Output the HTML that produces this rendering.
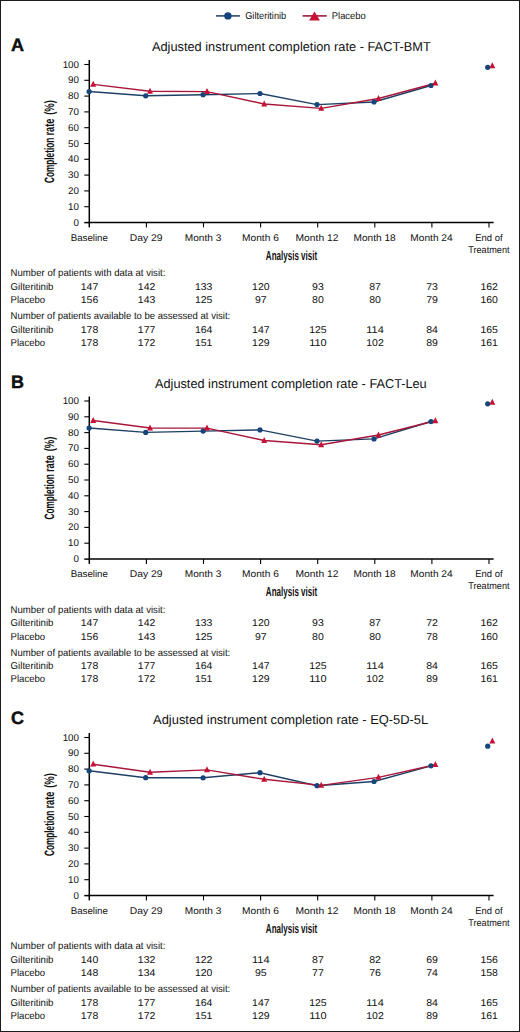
<!DOCTYPE html>
<html><head><meta charset="utf-8"><title>Completion rate</title>
<style>
html,body{margin:0;padding:0;background:#fff;}
body{width:520px;height:1032px;overflow:hidden;}
.frame{position:absolute;left:0;top:0;width:518px;height:1030px;border:1px solid #1c1c1c;background:#fff;}
svg{position:absolute;left:0;top:0;}
text{font-family:"Liberation Sans", sans-serif;fill:#111111;text-rendering:geometricPrecision;}
</style></head><body>
<div class="frame"></div>
<svg width="520" height="1032" viewBox="0 0 520 1032">
<line x1="216.0" y1="15.9" x2="239.9" y2="15.9" stroke="#2a4a70" stroke-width="1.6"/>
<circle cx="227.9" cy="15.9" r="3.7" fill="#16457c"/>
<text x="245.20" y="18.70" font-size="9.9" text-anchor="start" font-weight="normal" textLength="41.0" lengthAdjust="spacingAndGlyphs">Gilteritinib</text>
<line x1="302.6" y1="15.9" x2="326.7" y2="15.9" stroke="#a01838" stroke-width="1.6"/>
<path d="M314.5,11.4L319.9,20.4L309.1,20.4Z" fill="#c61034"/>
<text x="331.80" y="18.70" font-size="9.9" text-anchor="start" font-weight="normal" textLength="33.9" lengthAdjust="spacingAndGlyphs">Placebo</text>
<g><text x="11.00" y="51.30" font-size="18.0" text-anchor="start" font-weight="bold" style="stroke:#000;stroke-width:0.4px">A</text><text x="151.90" y="51.30" font-size="12.9" text-anchor="start" font-weight="normal" textLength="278.9" lengthAdjust="spacingAndGlyphs">Adjusted instrument completion rate - FACT-BMT</text><text transform="translate(54.4,183.00) rotate(-90)" font-size="13.6" font-weight="bold" textLength="45.3" lengthAdjust="spacingAndGlyphs" style="stroke:#111111;stroke-width:0px">Completion</text><text transform="translate(54.4,135.50) rotate(-90)" font-size="13.6" font-weight="bold" textLength="16.9" lengthAdjust="spacingAndGlyphs" style="stroke:#111111;stroke-width:0px">rate</text><text transform="translate(54.4,114.80) rotate(-90)" font-size="13.6" font-weight="bold" textLength="14.8" lengthAdjust="spacingAndGlyphs" style="stroke:#111111;stroke-width:0px">(%)</text><line x1="89.3" y1="60.00" x2="89.3" y2="227.40" stroke="#000" stroke-width="1.5"/><line x1="88.6" y1="222.60" x2="493.6" y2="222.60" stroke="#000" stroke-width="1.5"/><line x1="84.3" y1="206.70" x2="89.3" y2="206.70" stroke="#000" stroke-width="1.1"/><line x1="84.3" y1="190.90" x2="89.3" y2="190.90" stroke="#000" stroke-width="1.1"/><line x1="84.3" y1="175.10" x2="89.3" y2="175.10" stroke="#000" stroke-width="1.1"/><line x1="84.3" y1="159.30" x2="89.3" y2="159.30" stroke="#000" stroke-width="1.1"/><line x1="84.3" y1="143.50" x2="89.3" y2="143.50" stroke="#000" stroke-width="1.1"/><line x1="84.3" y1="127.70" x2="89.3" y2="127.70" stroke="#000" stroke-width="1.1"/><line x1="84.3" y1="111.90" x2="89.3" y2="111.90" stroke="#000" stroke-width="1.1"/><line x1="84.3" y1="96.10" x2="89.3" y2="96.10" stroke="#000" stroke-width="1.1"/><line x1="84.3" y1="80.30" x2="89.3" y2="80.30" stroke="#000" stroke-width="1.1"/><line x1="84.3" y1="64.50" x2="89.3" y2="64.50" stroke="#000" stroke-width="1.1"/><text x="79.00" y="225.50" font-size="9.8" text-anchor="end" font-weight="normal">0</text><text x="79.00" y="209.70" font-size="9.8" text-anchor="end" font-weight="normal">10</text><text x="79.00" y="193.90" font-size="9.8" text-anchor="end" font-weight="normal">20</text><text x="79.00" y="178.10" font-size="9.8" text-anchor="end" font-weight="normal">30</text><text x="79.00" y="162.30" font-size="9.8" text-anchor="end" font-weight="normal">40</text><text x="79.00" y="146.50" font-size="9.8" text-anchor="end" font-weight="normal">50</text><text x="79.00" y="130.70" font-size="9.8" text-anchor="end" font-weight="normal">60</text><text x="79.00" y="114.90" font-size="9.8" text-anchor="end" font-weight="normal">70</text><text x="79.00" y="99.10" font-size="9.8" text-anchor="end" font-weight="normal">80</text><text x="79.00" y="83.30" font-size="9.8" text-anchor="end" font-weight="normal">90</text><text x="79.00" y="67.50" font-size="9.8" text-anchor="end" font-weight="normal">100</text><line x1="84.3" y1="222.60" x2="89.3" y2="222.60" stroke="#000" stroke-width="1.5"/><line x1="146.40" y1="222.50" x2="146.40" y2="227.40" stroke="#000" stroke-width="1.1"/><line x1="203.50" y1="222.50" x2="203.50" y2="227.40" stroke="#000" stroke-width="1.1"/><line x1="260.60" y1="222.50" x2="260.60" y2="227.40" stroke="#000" stroke-width="1.1"/><line x1="317.70" y1="222.50" x2="317.70" y2="227.40" stroke="#000" stroke-width="1.1"/><line x1="374.80" y1="222.50" x2="374.80" y2="227.40" stroke="#000" stroke-width="1.1"/><line x1="431.90" y1="222.50" x2="431.90" y2="227.40" stroke="#000" stroke-width="1.1"/><line x1="489.00" y1="222.50" x2="489.00" y2="227.40" stroke="#000" stroke-width="1.1"/><text x="89.30" y="240.50" font-size="9.7" text-anchor="middle" font-weight="normal" textLength="37.2" lengthAdjust="spacingAndGlyphs">Baseline</text><text x="146.20" y="240.50" font-size="9.7" text-anchor="middle" font-weight="normal" textLength="32.7" lengthAdjust="spacingAndGlyphs">Day 29</text><text x="203.10" y="240.50" font-size="9.7" text-anchor="middle" font-weight="normal" textLength="36.5" lengthAdjust="spacingAndGlyphs">Month 3</text><text x="260.40" y="240.50" font-size="9.7" text-anchor="middle" font-weight="normal" textLength="36.8" lengthAdjust="spacingAndGlyphs">Month 6</text><text x="317.00" y="240.50" font-size="9.7" text-anchor="middle" font-weight="normal" textLength="42.9" lengthAdjust="spacingAndGlyphs">Month 12</text><text x="374.60" y="240.50" font-size="9.7" text-anchor="middle" font-weight="normal" textLength="42.1" lengthAdjust="spacingAndGlyphs">Month 18</text><text x="431.50" y="240.50" font-size="9.7" text-anchor="middle" font-weight="normal" textLength="42.3" lengthAdjust="spacingAndGlyphs">Month 24</text><text x="488.90" y="240.70" font-size="9.7" text-anchor="middle" font-weight="normal" textLength="27.3" lengthAdjust="spacingAndGlyphs">End of</text><text x="488.90" y="252.60" font-size="9.7" text-anchor="middle" font-weight="normal" textLength="41.3" lengthAdjust="spacingAndGlyphs">Treatment</text><text x="291.50" y="259.80" font-size="13.2" text-anchor="middle" font-weight="bold" textLength="51.3" lengthAdjust="spacingAndGlyphs">Analysis visit</text><polyline points="89.10,91.50 145.70,95.80 203.10,94.70 260.00,93.50 317.00,104.60 374.00,102.00 431.00,85.50" fill="none" stroke="#1d4064" stroke-width="1.4"/><polyline points="93.20,84.40 150.00,91.30 207.00,91.60 264.20,104.00 321.20,108.40 378.50,98.50 435.40,83.20" fill="none" stroke="#a8163a" stroke-width="1.4"/><circle cx="89.10" cy="91.50" r="2.6" fill="#16457c"/><circle cx="145.70" cy="95.80" r="2.6" fill="#16457c"/><circle cx="203.10" cy="94.70" r="2.6" fill="#16457c"/><circle cx="260.00" cy="93.50" r="2.6" fill="#16457c"/><circle cx="317.00" cy="104.60" r="2.6" fill="#16457c"/><circle cx="374.00" cy="102.00" r="2.6" fill="#16457c"/><circle cx="431.00" cy="85.50" r="2.6" fill="#16457c"/><circle cx="487.70" cy="67.30" r="2.6" fill="#16457c"/><path d="M93.20,80.80L96.20,86.80L90.20,86.80Z" fill="#c61034"/><path d="M150.00,87.70L153.00,93.70L147.00,93.70Z" fill="#c61034"/><path d="M207.00,88.00L210.00,94.00L204.00,94.00Z" fill="#c61034"/><path d="M264.20,100.40L267.20,106.40L261.20,106.40Z" fill="#c61034"/><path d="M321.20,104.80L324.20,110.80L318.20,110.80Z" fill="#c61034"/><path d="M378.50,94.90L381.50,100.90L375.50,100.90Z" fill="#c61034"/><path d="M435.40,79.60L438.40,85.60L432.40,85.60Z" fill="#c61034"/><path d="M492.30,62.20L495.30,68.20L489.30,68.20Z" fill="#c61034"/><text x="10.60" y="276.40" font-size="10.0" text-anchor="start" font-weight="normal" textLength="154.8" lengthAdjust="spacingAndGlyphs">Number of patients with data at visit:</text><text x="10.60" y="289.90" font-size="10.0" text-anchor="start" font-weight="normal" textLength="42.9" lengthAdjust="spacingAndGlyphs">Gilteritinib</text><text x="10.60" y="303.20" font-size="10.0" text-anchor="start" font-weight="normal" textLength="34.5" lengthAdjust="spacingAndGlyphs">Placebo</text><text x="10.60" y="319.10" font-size="10.0" text-anchor="start" font-weight="normal" textLength="219.6" lengthAdjust="spacingAndGlyphs">Number of patients available to be assessed at visit:</text><text x="10.60" y="332.50" font-size="10.0" text-anchor="start" font-weight="normal" textLength="42.9" lengthAdjust="spacingAndGlyphs">Gilteritinib</text><text x="10.60" y="345.90" font-size="10.0" text-anchor="start" font-weight="normal" textLength="34.5" lengthAdjust="spacingAndGlyphs">Placebo</text><text x="89.50" y="289.90" font-size="9.9" text-anchor="middle" font-weight="normal" textLength="17.5" lengthAdjust="spacingAndGlyphs">147</text><text x="89.50" y="303.20" font-size="9.9" text-anchor="middle" font-weight="normal" textLength="17.5" lengthAdjust="spacingAndGlyphs">156</text><text x="89.50" y="332.50" font-size="9.9" text-anchor="middle" font-weight="normal" textLength="17.5" lengthAdjust="spacingAndGlyphs">178</text><text x="89.50" y="345.90" font-size="9.9" text-anchor="middle" font-weight="normal" textLength="17.5" lengthAdjust="spacingAndGlyphs">178</text><text x="146.60" y="289.90" font-size="9.9" text-anchor="middle" font-weight="normal" textLength="17.5" lengthAdjust="spacingAndGlyphs">142</text><text x="146.60" y="303.20" font-size="9.9" text-anchor="middle" font-weight="normal" textLength="17.5" lengthAdjust="spacingAndGlyphs">143</text><text x="146.60" y="332.50" font-size="9.9" text-anchor="middle" font-weight="normal" textLength="17.5" lengthAdjust="spacingAndGlyphs">177</text><text x="146.60" y="345.90" font-size="9.9" text-anchor="middle" font-weight="normal" textLength="17.5" lengthAdjust="spacingAndGlyphs">172</text><text x="203.70" y="289.90" font-size="9.9" text-anchor="middle" font-weight="normal" textLength="17.5" lengthAdjust="spacingAndGlyphs">133</text><text x="203.70" y="303.20" font-size="9.9" text-anchor="middle" font-weight="normal" textLength="17.5" lengthAdjust="spacingAndGlyphs">125</text><text x="203.70" y="332.50" font-size="9.9" text-anchor="middle" font-weight="normal" textLength="17.5" lengthAdjust="spacingAndGlyphs">164</text><text x="203.70" y="345.90" font-size="9.9" text-anchor="middle" font-weight="normal" textLength="17.5" lengthAdjust="spacingAndGlyphs">151</text><text x="260.80" y="289.90" font-size="9.9" text-anchor="middle" font-weight="normal" textLength="17.5" lengthAdjust="spacingAndGlyphs">120</text><text x="260.80" y="303.20" font-size="9.9" text-anchor="middle" font-weight="normal" textLength="11.7" lengthAdjust="spacingAndGlyphs">97</text><text x="260.80" y="332.50" font-size="9.9" text-anchor="middle" font-weight="normal" textLength="17.5" lengthAdjust="spacingAndGlyphs">147</text><text x="260.80" y="345.90" font-size="9.9" text-anchor="middle" font-weight="normal" textLength="17.5" lengthAdjust="spacingAndGlyphs">129</text><text x="317.90" y="289.90" font-size="9.9" text-anchor="middle" font-weight="normal" textLength="11.7" lengthAdjust="spacingAndGlyphs">93</text><text x="317.90" y="303.20" font-size="9.9" text-anchor="middle" font-weight="normal" textLength="11.7" lengthAdjust="spacingAndGlyphs">80</text><text x="317.90" y="332.50" font-size="9.9" text-anchor="middle" font-weight="normal" textLength="17.5" lengthAdjust="spacingAndGlyphs">125</text><text x="317.90" y="345.90" font-size="9.9" text-anchor="middle" font-weight="normal" textLength="17.5" lengthAdjust="spacingAndGlyphs">110</text><text x="375.00" y="289.90" font-size="9.9" text-anchor="middle" font-weight="normal" textLength="11.7" lengthAdjust="spacingAndGlyphs">87</text><text x="375.00" y="303.20" font-size="9.9" text-anchor="middle" font-weight="normal" textLength="11.7" lengthAdjust="spacingAndGlyphs">80</text><text x="375.00" y="332.50" font-size="9.9" text-anchor="middle" font-weight="normal" textLength="17.5" lengthAdjust="spacingAndGlyphs">114</text><text x="375.00" y="345.90" font-size="9.9" text-anchor="middle" font-weight="normal" textLength="17.5" lengthAdjust="spacingAndGlyphs">102</text><text x="432.10" y="289.90" font-size="9.9" text-anchor="middle" font-weight="normal" textLength="11.7" lengthAdjust="spacingAndGlyphs">73</text><text x="432.10" y="303.20" font-size="9.9" text-anchor="middle" font-weight="normal" textLength="11.7" lengthAdjust="spacingAndGlyphs">79</text><text x="432.10" y="332.50" font-size="9.9" text-anchor="middle" font-weight="normal" textLength="11.7" lengthAdjust="spacingAndGlyphs">84</text><text x="432.10" y="345.90" font-size="9.9" text-anchor="middle" font-weight="normal" textLength="11.7" lengthAdjust="spacingAndGlyphs">89</text><text x="489.20" y="289.90" font-size="9.9" text-anchor="middle" font-weight="normal" textLength="17.5" lengthAdjust="spacingAndGlyphs">162</text><text x="489.20" y="303.20" font-size="9.9" text-anchor="middle" font-weight="normal" textLength="17.5" lengthAdjust="spacingAndGlyphs">160</text><text x="489.20" y="332.50" font-size="9.9" text-anchor="middle" font-weight="normal" textLength="17.5" lengthAdjust="spacingAndGlyphs">165</text><text x="489.20" y="345.90" font-size="9.9" text-anchor="middle" font-weight="normal" textLength="17.5" lengthAdjust="spacingAndGlyphs">161</text></g>
<g><text x="11.00" y="387.80" font-size="18.0" text-anchor="start" font-weight="bold" style="stroke:#000;stroke-width:0.4px">B</text><text x="155.00" y="387.80" font-size="12.9" text-anchor="start" font-weight="normal" textLength="271.7" lengthAdjust="spacingAndGlyphs">Adjusted instrument completion rate - FACT-Leu</text><text transform="translate(54.4,519.50) rotate(-90)" font-size="13.6" font-weight="bold" textLength="45.3" lengthAdjust="spacingAndGlyphs" style="stroke:#111111;stroke-width:0px">Completion</text><text transform="translate(54.4,472.00) rotate(-90)" font-size="13.6" font-weight="bold" textLength="16.9" lengthAdjust="spacingAndGlyphs" style="stroke:#111111;stroke-width:0px">rate</text><text transform="translate(54.4,451.30) rotate(-90)" font-size="13.6" font-weight="bold" textLength="14.8" lengthAdjust="spacingAndGlyphs" style="stroke:#111111;stroke-width:0px">(%)</text><line x1="89.3" y1="396.50" x2="89.3" y2="563.90" stroke="#000" stroke-width="1.5"/><line x1="88.6" y1="559.10" x2="493.6" y2="559.10" stroke="#000" stroke-width="1.5"/><line x1="84.3" y1="543.20" x2="89.3" y2="543.20" stroke="#000" stroke-width="1.1"/><line x1="84.3" y1="527.40" x2="89.3" y2="527.40" stroke="#000" stroke-width="1.1"/><line x1="84.3" y1="511.60" x2="89.3" y2="511.60" stroke="#000" stroke-width="1.1"/><line x1="84.3" y1="495.80" x2="89.3" y2="495.80" stroke="#000" stroke-width="1.1"/><line x1="84.3" y1="480.00" x2="89.3" y2="480.00" stroke="#000" stroke-width="1.1"/><line x1="84.3" y1="464.20" x2="89.3" y2="464.20" stroke="#000" stroke-width="1.1"/><line x1="84.3" y1="448.40" x2="89.3" y2="448.40" stroke="#000" stroke-width="1.1"/><line x1="84.3" y1="432.60" x2="89.3" y2="432.60" stroke="#000" stroke-width="1.1"/><line x1="84.3" y1="416.80" x2="89.3" y2="416.80" stroke="#000" stroke-width="1.1"/><line x1="84.3" y1="401.00" x2="89.3" y2="401.00" stroke="#000" stroke-width="1.1"/><text x="79.00" y="562.00" font-size="9.8" text-anchor="end" font-weight="normal">0</text><text x="79.00" y="546.20" font-size="9.8" text-anchor="end" font-weight="normal">10</text><text x="79.00" y="530.40" font-size="9.8" text-anchor="end" font-weight="normal">20</text><text x="79.00" y="514.60" font-size="9.8" text-anchor="end" font-weight="normal">30</text><text x="79.00" y="498.80" font-size="9.8" text-anchor="end" font-weight="normal">40</text><text x="79.00" y="483.00" font-size="9.8" text-anchor="end" font-weight="normal">50</text><text x="79.00" y="467.20" font-size="9.8" text-anchor="end" font-weight="normal">60</text><text x="79.00" y="451.40" font-size="9.8" text-anchor="end" font-weight="normal">70</text><text x="79.00" y="435.60" font-size="9.8" text-anchor="end" font-weight="normal">80</text><text x="79.00" y="419.80" font-size="9.8" text-anchor="end" font-weight="normal">90</text><text x="79.00" y="404.00" font-size="9.8" text-anchor="end" font-weight="normal">100</text><line x1="84.3" y1="559.10" x2="89.3" y2="559.10" stroke="#000" stroke-width="1.5"/><line x1="146.40" y1="559.00" x2="146.40" y2="563.90" stroke="#000" stroke-width="1.1"/><line x1="203.50" y1="559.00" x2="203.50" y2="563.90" stroke="#000" stroke-width="1.1"/><line x1="260.60" y1="559.00" x2="260.60" y2="563.90" stroke="#000" stroke-width="1.1"/><line x1="317.70" y1="559.00" x2="317.70" y2="563.90" stroke="#000" stroke-width="1.1"/><line x1="374.80" y1="559.00" x2="374.80" y2="563.90" stroke="#000" stroke-width="1.1"/><line x1="431.90" y1="559.00" x2="431.90" y2="563.90" stroke="#000" stroke-width="1.1"/><line x1="489.00" y1="559.00" x2="489.00" y2="563.90" stroke="#000" stroke-width="1.1"/><text x="89.30" y="577.00" font-size="9.7" text-anchor="middle" font-weight="normal" textLength="37.2" lengthAdjust="spacingAndGlyphs">Baseline</text><text x="146.20" y="577.00" font-size="9.7" text-anchor="middle" font-weight="normal" textLength="32.7" lengthAdjust="spacingAndGlyphs">Day 29</text><text x="203.10" y="577.00" font-size="9.7" text-anchor="middle" font-weight="normal" textLength="36.5" lengthAdjust="spacingAndGlyphs">Month 3</text><text x="260.40" y="577.00" font-size="9.7" text-anchor="middle" font-weight="normal" textLength="36.8" lengthAdjust="spacingAndGlyphs">Month 6</text><text x="317.00" y="577.00" font-size="9.7" text-anchor="middle" font-weight="normal" textLength="42.9" lengthAdjust="spacingAndGlyphs">Month 12</text><text x="374.60" y="577.00" font-size="9.7" text-anchor="middle" font-weight="normal" textLength="42.1" lengthAdjust="spacingAndGlyphs">Month 18</text><text x="431.50" y="577.00" font-size="9.7" text-anchor="middle" font-weight="normal" textLength="42.3" lengthAdjust="spacingAndGlyphs">Month 24</text><text x="488.90" y="577.20" font-size="9.7" text-anchor="middle" font-weight="normal" textLength="27.3" lengthAdjust="spacingAndGlyphs">End of</text><text x="488.90" y="589.10" font-size="9.7" text-anchor="middle" font-weight="normal" textLength="41.3" lengthAdjust="spacingAndGlyphs">Treatment</text><text x="291.50" y="596.30" font-size="13.2" text-anchor="middle" font-weight="bold" textLength="51.3" lengthAdjust="spacingAndGlyphs">Analysis visit</text><polyline points="89.10,428.00 145.70,432.40 203.10,431.10 260.00,429.90 317.00,441.10 374.00,438.90 431.00,421.50" fill="none" stroke="#1d4064" stroke-width="1.4"/><polyline points="93.20,420.50 150.00,428.00 207.00,428.10 264.20,440.50 321.20,444.80 378.50,435.00 435.40,420.80" fill="none" stroke="#a8163a" stroke-width="1.4"/><circle cx="89.10" cy="428.00" r="2.6" fill="#16457c"/><circle cx="145.70" cy="432.40" r="2.6" fill="#16457c"/><circle cx="203.10" cy="431.10" r="2.6" fill="#16457c"/><circle cx="260.00" cy="429.90" r="2.6" fill="#16457c"/><circle cx="317.00" cy="441.10" r="2.6" fill="#16457c"/><circle cx="374.00" cy="438.90" r="2.6" fill="#16457c"/><circle cx="431.00" cy="421.50" r="2.6" fill="#16457c"/><circle cx="487.70" cy="403.80" r="2.6" fill="#16457c"/><path d="M93.20,416.90L96.20,422.90L90.20,422.90Z" fill="#c61034"/><path d="M150.00,424.40L153.00,430.40L147.00,430.40Z" fill="#c61034"/><path d="M207.00,424.50L210.00,430.50L204.00,430.50Z" fill="#c61034"/><path d="M264.20,436.90L267.20,442.90L261.20,442.90Z" fill="#c61034"/><path d="M321.20,441.20L324.20,447.20L318.20,447.20Z" fill="#c61034"/><path d="M378.50,431.40L381.50,437.40L375.50,437.40Z" fill="#c61034"/><path d="M435.40,417.20L438.40,423.20L432.40,423.20Z" fill="#c61034"/><path d="M492.30,398.70L495.30,404.70L489.30,404.70Z" fill="#c61034"/><text x="10.60" y="612.90" font-size="10.0" text-anchor="start" font-weight="normal" textLength="154.8" lengthAdjust="spacingAndGlyphs">Number of patients with data at visit:</text><text x="10.60" y="626.40" font-size="10.0" text-anchor="start" font-weight="normal" textLength="42.9" lengthAdjust="spacingAndGlyphs">Gilteritinib</text><text x="10.60" y="639.70" font-size="10.0" text-anchor="start" font-weight="normal" textLength="34.5" lengthAdjust="spacingAndGlyphs">Placebo</text><text x="10.60" y="655.60" font-size="10.0" text-anchor="start" font-weight="normal" textLength="219.6" lengthAdjust="spacingAndGlyphs">Number of patients available to be assessed at visit:</text><text x="10.60" y="669.00" font-size="10.0" text-anchor="start" font-weight="normal" textLength="42.9" lengthAdjust="spacingAndGlyphs">Gilteritinib</text><text x="10.60" y="682.40" font-size="10.0" text-anchor="start" font-weight="normal" textLength="34.5" lengthAdjust="spacingAndGlyphs">Placebo</text><text x="89.50" y="626.40" font-size="9.9" text-anchor="middle" font-weight="normal" textLength="17.5" lengthAdjust="spacingAndGlyphs">147</text><text x="89.50" y="639.70" font-size="9.9" text-anchor="middle" font-weight="normal" textLength="17.5" lengthAdjust="spacingAndGlyphs">156</text><text x="89.50" y="669.00" font-size="9.9" text-anchor="middle" font-weight="normal" textLength="17.5" lengthAdjust="spacingAndGlyphs">178</text><text x="89.50" y="682.40" font-size="9.9" text-anchor="middle" font-weight="normal" textLength="17.5" lengthAdjust="spacingAndGlyphs">178</text><text x="146.60" y="626.40" font-size="9.9" text-anchor="middle" font-weight="normal" textLength="17.5" lengthAdjust="spacingAndGlyphs">142</text><text x="146.60" y="639.70" font-size="9.9" text-anchor="middle" font-weight="normal" textLength="17.5" lengthAdjust="spacingAndGlyphs">143</text><text x="146.60" y="669.00" font-size="9.9" text-anchor="middle" font-weight="normal" textLength="17.5" lengthAdjust="spacingAndGlyphs">177</text><text x="146.60" y="682.40" font-size="9.9" text-anchor="middle" font-weight="normal" textLength="17.5" lengthAdjust="spacingAndGlyphs">172</text><text x="203.70" y="626.40" font-size="9.9" text-anchor="middle" font-weight="normal" textLength="17.5" lengthAdjust="spacingAndGlyphs">133</text><text x="203.70" y="639.70" font-size="9.9" text-anchor="middle" font-weight="normal" textLength="17.5" lengthAdjust="spacingAndGlyphs">125</text><text x="203.70" y="669.00" font-size="9.9" text-anchor="middle" font-weight="normal" textLength="17.5" lengthAdjust="spacingAndGlyphs">164</text><text x="203.70" y="682.40" font-size="9.9" text-anchor="middle" font-weight="normal" textLength="17.5" lengthAdjust="spacingAndGlyphs">151</text><text x="260.80" y="626.40" font-size="9.9" text-anchor="middle" font-weight="normal" textLength="17.5" lengthAdjust="spacingAndGlyphs">120</text><text x="260.80" y="639.70" font-size="9.9" text-anchor="middle" font-weight="normal" textLength="11.7" lengthAdjust="spacingAndGlyphs">97</text><text x="260.80" y="669.00" font-size="9.9" text-anchor="middle" font-weight="normal" textLength="17.5" lengthAdjust="spacingAndGlyphs">147</text><text x="260.80" y="682.40" font-size="9.9" text-anchor="middle" font-weight="normal" textLength="17.5" lengthAdjust="spacingAndGlyphs">129</text><text x="317.90" y="626.40" font-size="9.9" text-anchor="middle" font-weight="normal" textLength="11.7" lengthAdjust="spacingAndGlyphs">93</text><text x="317.90" y="639.70" font-size="9.9" text-anchor="middle" font-weight="normal" textLength="11.7" lengthAdjust="spacingAndGlyphs">80</text><text x="317.90" y="669.00" font-size="9.9" text-anchor="middle" font-weight="normal" textLength="17.5" lengthAdjust="spacingAndGlyphs">125</text><text x="317.90" y="682.40" font-size="9.9" text-anchor="middle" font-weight="normal" textLength="17.5" lengthAdjust="spacingAndGlyphs">110</text><text x="375.00" y="626.40" font-size="9.9" text-anchor="middle" font-weight="normal" textLength="11.7" lengthAdjust="spacingAndGlyphs">87</text><text x="375.00" y="639.70" font-size="9.9" text-anchor="middle" font-weight="normal" textLength="11.7" lengthAdjust="spacingAndGlyphs">80</text><text x="375.00" y="669.00" font-size="9.9" text-anchor="middle" font-weight="normal" textLength="17.5" lengthAdjust="spacingAndGlyphs">114</text><text x="375.00" y="682.40" font-size="9.9" text-anchor="middle" font-weight="normal" textLength="17.5" lengthAdjust="spacingAndGlyphs">102</text><text x="432.10" y="626.40" font-size="9.9" text-anchor="middle" font-weight="normal" textLength="11.7" lengthAdjust="spacingAndGlyphs">72</text><text x="432.10" y="639.70" font-size="9.9" text-anchor="middle" font-weight="normal" textLength="11.7" lengthAdjust="spacingAndGlyphs">78</text><text x="432.10" y="669.00" font-size="9.9" text-anchor="middle" font-weight="normal" textLength="11.7" lengthAdjust="spacingAndGlyphs">84</text><text x="432.10" y="682.40" font-size="9.9" text-anchor="middle" font-weight="normal" textLength="11.7" lengthAdjust="spacingAndGlyphs">89</text><text x="489.20" y="626.40" font-size="9.9" text-anchor="middle" font-weight="normal" textLength="17.5" lengthAdjust="spacingAndGlyphs">162</text><text x="489.20" y="639.70" font-size="9.9" text-anchor="middle" font-weight="normal" textLength="17.5" lengthAdjust="spacingAndGlyphs">160</text><text x="489.20" y="669.00" font-size="9.9" text-anchor="middle" font-weight="normal" textLength="17.5" lengthAdjust="spacingAndGlyphs">165</text><text x="489.20" y="682.40" font-size="9.9" text-anchor="middle" font-weight="normal" textLength="17.5" lengthAdjust="spacingAndGlyphs">161</text></g>
<g><text x="11.00" y="724.30" font-size="18.0" text-anchor="start" font-weight="bold" style="stroke:#000;stroke-width:0.4px">C</text><text x="153.10" y="724.30" font-size="12.9" text-anchor="start" font-weight="normal" textLength="275.1" lengthAdjust="spacingAndGlyphs">Adjusted instrument completion rate - EQ-5D-5L</text><text transform="translate(54.4,856.00) rotate(-90)" font-size="13.6" font-weight="bold" textLength="45.3" lengthAdjust="spacingAndGlyphs" style="stroke:#111111;stroke-width:0px">Completion</text><text transform="translate(54.4,808.50) rotate(-90)" font-size="13.6" font-weight="bold" textLength="16.9" lengthAdjust="spacingAndGlyphs" style="stroke:#111111;stroke-width:0px">rate</text><text transform="translate(54.4,787.80) rotate(-90)" font-size="13.6" font-weight="bold" textLength="14.8" lengthAdjust="spacingAndGlyphs" style="stroke:#111111;stroke-width:0px">(%)</text><line x1="89.3" y1="733.00" x2="89.3" y2="900.40" stroke="#000" stroke-width="1.5"/><line x1="88.6" y1="895.60" x2="493.6" y2="895.60" stroke="#000" stroke-width="1.5"/><line x1="84.3" y1="879.70" x2="89.3" y2="879.70" stroke="#000" stroke-width="1.1"/><line x1="84.3" y1="863.90" x2="89.3" y2="863.90" stroke="#000" stroke-width="1.1"/><line x1="84.3" y1="848.10" x2="89.3" y2="848.10" stroke="#000" stroke-width="1.1"/><line x1="84.3" y1="832.30" x2="89.3" y2="832.30" stroke="#000" stroke-width="1.1"/><line x1="84.3" y1="816.50" x2="89.3" y2="816.50" stroke="#000" stroke-width="1.1"/><line x1="84.3" y1="800.70" x2="89.3" y2="800.70" stroke="#000" stroke-width="1.1"/><line x1="84.3" y1="784.90" x2="89.3" y2="784.90" stroke="#000" stroke-width="1.1"/><line x1="84.3" y1="769.10" x2="89.3" y2="769.10" stroke="#000" stroke-width="1.1"/><line x1="84.3" y1="753.30" x2="89.3" y2="753.30" stroke="#000" stroke-width="1.1"/><line x1="84.3" y1="737.50" x2="89.3" y2="737.50" stroke="#000" stroke-width="1.1"/><text x="79.00" y="898.50" font-size="9.8" text-anchor="end" font-weight="normal">0</text><text x="79.00" y="882.70" font-size="9.8" text-anchor="end" font-weight="normal">10</text><text x="79.00" y="866.90" font-size="9.8" text-anchor="end" font-weight="normal">20</text><text x="79.00" y="851.10" font-size="9.8" text-anchor="end" font-weight="normal">30</text><text x="79.00" y="835.30" font-size="9.8" text-anchor="end" font-weight="normal">40</text><text x="79.00" y="819.50" font-size="9.8" text-anchor="end" font-weight="normal">50</text><text x="79.00" y="803.70" font-size="9.8" text-anchor="end" font-weight="normal">60</text><text x="79.00" y="787.90" font-size="9.8" text-anchor="end" font-weight="normal">70</text><text x="79.00" y="772.10" font-size="9.8" text-anchor="end" font-weight="normal">80</text><text x="79.00" y="756.30" font-size="9.8" text-anchor="end" font-weight="normal">90</text><text x="79.00" y="740.50" font-size="9.8" text-anchor="end" font-weight="normal">100</text><line x1="84.3" y1="895.60" x2="89.3" y2="895.60" stroke="#000" stroke-width="1.5"/><line x1="146.40" y1="895.50" x2="146.40" y2="900.40" stroke="#000" stroke-width="1.1"/><line x1="203.50" y1="895.50" x2="203.50" y2="900.40" stroke="#000" stroke-width="1.1"/><line x1="260.60" y1="895.50" x2="260.60" y2="900.40" stroke="#000" stroke-width="1.1"/><line x1="317.70" y1="895.50" x2="317.70" y2="900.40" stroke="#000" stroke-width="1.1"/><line x1="374.80" y1="895.50" x2="374.80" y2="900.40" stroke="#000" stroke-width="1.1"/><line x1="431.90" y1="895.50" x2="431.90" y2="900.40" stroke="#000" stroke-width="1.1"/><line x1="489.00" y1="895.50" x2="489.00" y2="900.40" stroke="#000" stroke-width="1.1"/><text x="89.30" y="913.50" font-size="9.7" text-anchor="middle" font-weight="normal" textLength="37.2" lengthAdjust="spacingAndGlyphs">Baseline</text><text x="146.20" y="913.50" font-size="9.7" text-anchor="middle" font-weight="normal" textLength="32.7" lengthAdjust="spacingAndGlyphs">Day 29</text><text x="203.10" y="913.50" font-size="9.7" text-anchor="middle" font-weight="normal" textLength="36.5" lengthAdjust="spacingAndGlyphs">Month 3</text><text x="260.40" y="913.50" font-size="9.7" text-anchor="middle" font-weight="normal" textLength="36.8" lengthAdjust="spacingAndGlyphs">Month 6</text><text x="317.00" y="913.50" font-size="9.7" text-anchor="middle" font-weight="normal" textLength="42.9" lengthAdjust="spacingAndGlyphs">Month 12</text><text x="374.60" y="913.50" font-size="9.7" text-anchor="middle" font-weight="normal" textLength="42.1" lengthAdjust="spacingAndGlyphs">Month 18</text><text x="431.50" y="913.50" font-size="9.7" text-anchor="middle" font-weight="normal" textLength="42.3" lengthAdjust="spacingAndGlyphs">Month 24</text><text x="488.90" y="913.70" font-size="9.7" text-anchor="middle" font-weight="normal" textLength="27.3" lengthAdjust="spacingAndGlyphs">End of</text><text x="488.90" y="925.60" font-size="9.7" text-anchor="middle" font-weight="normal" textLength="41.3" lengthAdjust="spacingAndGlyphs">Treatment</text><text x="291.50" y="932.80" font-size="13.2" text-anchor="middle" font-weight="bold" textLength="51.3" lengthAdjust="spacingAndGlyphs">Analysis visit</text><polyline points="89.10,770.80 145.70,777.70 203.10,777.80 260.00,772.70 317.00,785.70 374.00,781.50 431.00,765.80" fill="none" stroke="#1d4064" stroke-width="1.4"/><polyline points="93.20,764.20 150.00,772.30 207.00,769.90 264.20,779.30 321.20,785.40 378.50,777.40 435.40,764.70" fill="none" stroke="#a8163a" stroke-width="1.4"/><circle cx="89.10" cy="770.80" r="2.6" fill="#16457c"/><circle cx="145.70" cy="777.70" r="2.6" fill="#16457c"/><circle cx="203.10" cy="777.80" r="2.6" fill="#16457c"/><circle cx="260.00" cy="772.70" r="2.6" fill="#16457c"/><circle cx="317.00" cy="785.70" r="2.6" fill="#16457c"/><circle cx="374.00" cy="781.50" r="2.6" fill="#16457c"/><circle cx="431.00" cy="765.80" r="2.6" fill="#16457c"/><circle cx="487.70" cy="746.20" r="2.6" fill="#16457c"/><path d="M93.20,760.60L96.20,766.60L90.20,766.60Z" fill="#c61034"/><path d="M150.00,768.70L153.00,774.70L147.00,774.70Z" fill="#c61034"/><path d="M207.00,766.30L210.00,772.30L204.00,772.30Z" fill="#c61034"/><path d="M264.20,775.70L267.20,781.70L261.20,781.70Z" fill="#c61034"/><path d="M321.20,781.80L324.20,787.80L318.20,787.80Z" fill="#c61034"/><path d="M378.50,773.80L381.50,779.80L375.50,779.80Z" fill="#c61034"/><path d="M435.40,761.10L438.40,767.10L432.40,767.10Z" fill="#c61034"/><path d="M492.30,737.60L495.30,743.60L489.30,743.60Z" fill="#c61034"/><text x="10.60" y="949.40" font-size="10.0" text-anchor="start" font-weight="normal" textLength="154.8" lengthAdjust="spacingAndGlyphs">Number of patients with data at visit:</text><text x="10.60" y="962.90" font-size="10.0" text-anchor="start" font-weight="normal" textLength="42.9" lengthAdjust="spacingAndGlyphs">Gilteritinib</text><text x="10.60" y="976.20" font-size="10.0" text-anchor="start" font-weight="normal" textLength="34.5" lengthAdjust="spacingAndGlyphs">Placebo</text><text x="10.60" y="992.10" font-size="10.0" text-anchor="start" font-weight="normal" textLength="219.6" lengthAdjust="spacingAndGlyphs">Number of patients available to be assessed at visit:</text><text x="10.60" y="1005.50" font-size="10.0" text-anchor="start" font-weight="normal" textLength="42.9" lengthAdjust="spacingAndGlyphs">Gilteritinib</text><text x="10.60" y="1018.90" font-size="10.0" text-anchor="start" font-weight="normal" textLength="34.5" lengthAdjust="spacingAndGlyphs">Placebo</text><text x="89.50" y="962.90" font-size="9.9" text-anchor="middle" font-weight="normal" textLength="17.5" lengthAdjust="spacingAndGlyphs">140</text><text x="89.50" y="976.20" font-size="9.9" text-anchor="middle" font-weight="normal" textLength="17.5" lengthAdjust="spacingAndGlyphs">148</text><text x="89.50" y="1005.50" font-size="9.9" text-anchor="middle" font-weight="normal" textLength="17.5" lengthAdjust="spacingAndGlyphs">178</text><text x="89.50" y="1018.90" font-size="9.9" text-anchor="middle" font-weight="normal" textLength="17.5" lengthAdjust="spacingAndGlyphs">178</text><text x="146.60" y="962.90" font-size="9.9" text-anchor="middle" font-weight="normal" textLength="17.5" lengthAdjust="spacingAndGlyphs">132</text><text x="146.60" y="976.20" font-size="9.9" text-anchor="middle" font-weight="normal" textLength="17.5" lengthAdjust="spacingAndGlyphs">134</text><text x="146.60" y="1005.50" font-size="9.9" text-anchor="middle" font-weight="normal" textLength="17.5" lengthAdjust="spacingAndGlyphs">177</text><text x="146.60" y="1018.90" font-size="9.9" text-anchor="middle" font-weight="normal" textLength="17.5" lengthAdjust="spacingAndGlyphs">172</text><text x="203.70" y="962.90" font-size="9.9" text-anchor="middle" font-weight="normal" textLength="17.5" lengthAdjust="spacingAndGlyphs">122</text><text x="203.70" y="976.20" font-size="9.9" text-anchor="middle" font-weight="normal" textLength="17.5" lengthAdjust="spacingAndGlyphs">120</text><text x="203.70" y="1005.50" font-size="9.9" text-anchor="middle" font-weight="normal" textLength="17.5" lengthAdjust="spacingAndGlyphs">164</text><text x="203.70" y="1018.90" font-size="9.9" text-anchor="middle" font-weight="normal" textLength="17.5" lengthAdjust="spacingAndGlyphs">151</text><text x="260.80" y="962.90" font-size="9.9" text-anchor="middle" font-weight="normal" textLength="17.5" lengthAdjust="spacingAndGlyphs">114</text><text x="260.80" y="976.20" font-size="9.9" text-anchor="middle" font-weight="normal" textLength="11.7" lengthAdjust="spacingAndGlyphs">95</text><text x="260.80" y="1005.50" font-size="9.9" text-anchor="middle" font-weight="normal" textLength="17.5" lengthAdjust="spacingAndGlyphs">147</text><text x="260.80" y="1018.90" font-size="9.9" text-anchor="middle" font-weight="normal" textLength="17.5" lengthAdjust="spacingAndGlyphs">129</text><text x="317.90" y="962.90" font-size="9.9" text-anchor="middle" font-weight="normal" textLength="11.7" lengthAdjust="spacingAndGlyphs">87</text><text x="317.90" y="976.20" font-size="9.9" text-anchor="middle" font-weight="normal" textLength="11.7" lengthAdjust="spacingAndGlyphs">77</text><text x="317.90" y="1005.50" font-size="9.9" text-anchor="middle" font-weight="normal" textLength="17.5" lengthAdjust="spacingAndGlyphs">125</text><text x="317.90" y="1018.90" font-size="9.9" text-anchor="middle" font-weight="normal" textLength="17.5" lengthAdjust="spacingAndGlyphs">110</text><text x="375.00" y="962.90" font-size="9.9" text-anchor="middle" font-weight="normal" textLength="11.7" lengthAdjust="spacingAndGlyphs">82</text><text x="375.00" y="976.20" font-size="9.9" text-anchor="middle" font-weight="normal" textLength="11.7" lengthAdjust="spacingAndGlyphs">76</text><text x="375.00" y="1005.50" font-size="9.9" text-anchor="middle" font-weight="normal" textLength="17.5" lengthAdjust="spacingAndGlyphs">114</text><text x="375.00" y="1018.90" font-size="9.9" text-anchor="middle" font-weight="normal" textLength="17.5" lengthAdjust="spacingAndGlyphs">102</text><text x="432.10" y="962.90" font-size="9.9" text-anchor="middle" font-weight="normal" textLength="11.7" lengthAdjust="spacingAndGlyphs">69</text><text x="432.10" y="976.20" font-size="9.9" text-anchor="middle" font-weight="normal" textLength="11.7" lengthAdjust="spacingAndGlyphs">74</text><text x="432.10" y="1005.50" font-size="9.9" text-anchor="middle" font-weight="normal" textLength="11.7" lengthAdjust="spacingAndGlyphs">84</text><text x="432.10" y="1018.90" font-size="9.9" text-anchor="middle" font-weight="normal" textLength="11.7" lengthAdjust="spacingAndGlyphs">89</text><text x="489.20" y="962.90" font-size="9.9" text-anchor="middle" font-weight="normal" textLength="17.5" lengthAdjust="spacingAndGlyphs">156</text><text x="489.20" y="976.20" font-size="9.9" text-anchor="middle" font-weight="normal" textLength="17.5" lengthAdjust="spacingAndGlyphs">158</text><text x="489.20" y="1005.50" font-size="9.9" text-anchor="middle" font-weight="normal" textLength="17.5" lengthAdjust="spacingAndGlyphs">165</text><text x="489.20" y="1018.90" font-size="9.9" text-anchor="middle" font-weight="normal" textLength="17.5" lengthAdjust="spacingAndGlyphs">161</text></g>
</svg>
</body></html>
